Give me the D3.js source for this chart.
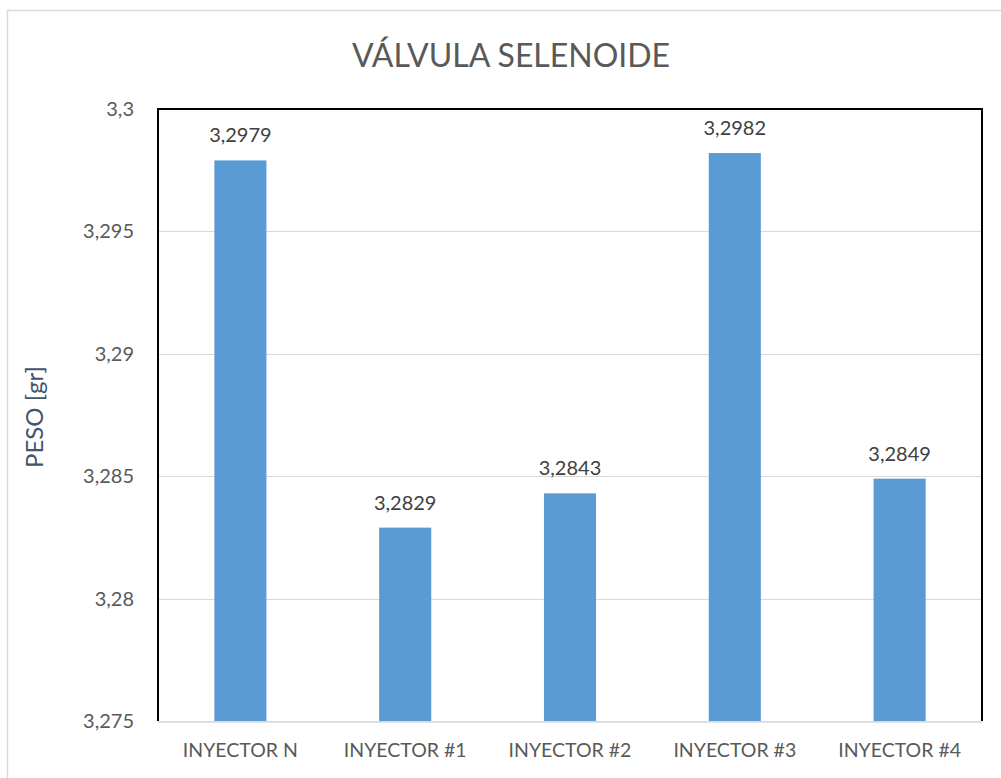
<!DOCTYPE html>
<html>
<head>
<meta charset="utf-8">
<script src="https://cdn.jsdelivr.net/npm/d3@7"></script>
<style>
  html, body { margin: 0; padding: 0; background: #ffffff; }
  svg { display: block; }
  text { font-family: Lato, "Open Sans", sans-serif; }
</style>
</head>
<body>
<svg id="chart" width="1001" height="778"></svg>
<script>
// Peso medido de cada inyector
const categories = ["INYECTOR N", "INYECTOR #1", "INYECTOR #2", "INYECTOR #3", "INYECTOR #4"];
const pesos = [3.2979, 3.2829, 3.2843, 3.2982, 3.2849];
const yTicks = [3.275, 3.28, 3.285, 3.29, 3.295, 3.3];
const yDomain = [3.275, 3.3];

const chartTitle = "VÁLVULA SELENOIDE";
const yTitle = "PESO [gr]";

const W = 1001, H = 778;
const plot = { left: 158, right: 982, top: 109, bottom: 721 };

const svg = d3.select("#chart");

// Marco exterior del gráfico
svg.append("rect")
  .attr("x", 7.5).attr("y", 10.5)
  .attr("width", W).attr("height", H)
  .attr("fill", "#ffffff")
  .attr("stroke", "#d9d9d9").attr("stroke-width", 1.5);

const x = d3.scaleBand()
  .domain(categories)
  .range([plot.left, plot.right])
  .paddingInner(0.684)
  .paddingOuter(0.342);

const y = d3.scaleLinear()
  .domain(yDomain)
  .range([plot.bottom, plot.top]);

const coma = v => String(v).replace(".", ",");

// Líneas de cuadrícula
svg.append("g")
  .selectAll("line")
  .data(yTicks)
  .join("line")
  .attr("x1", plot.left).attr("x2", plot.right)
  .attr("y1", d => Math.round(y(d)) + 0.5).attr("y2", d => Math.round(y(d)) + 0.5)
  .attr("stroke", "#d9d9d9").attr("stroke-width", 1.2);

// Eje Y
const yAxis = svg.append("g")
  .attr("transform", `translate(${plot.left},0)`)
  .call(d3.axisLeft(y).tickValues(yTicks).tickSize(0).tickPadding(24)
    .tickFormat(coma));
yAxis.select(".domain").remove();
yAxis.selectAll("text")
  .attr("fill", "#595959")
  .style("font-size", "20px");

// Eje X
const xAxis = svg.append("g")
  .attr("transform", `translate(0,${plot.bottom})`)
  .call(d3.axisBottom(x).tickSize(0).tickPadding(22));
xAxis.select(".domain").remove();
xAxis.selectAll("text")
  .attr("fill", "#595959")
  .style("font-size", "19.5px");

// Barras
svg.append("g")
  .selectAll("rect")
  .data(pesos)
  .join("rect")
  .attr("x", (d, i) => x(categories[i]))
  .attr("width", x.bandwidth())
  .attr("y", d => y(d))
  .attr("height", d => y(yDomain[0]) - y(d))
  .attr("fill", "#5b9bd5");

// Etiquetas de valor
svg.append("g")
  .selectAll("text")
  .data(pesos)
  .join("text")
  .attr("x", (d, i) => x(categories[i]) + x.bandwidth() / 2)
  .attr("y", d => y(d) - 18)
  .attr("text-anchor", "middle")
  .attr("fill", "#404040")
  .style("font-size", "20px")
  .text(coma);

// Línea base del eje X
svg.append("line")
  .attr("x1", plot.left).attr("x2", plot.right)
  .attr("y1", plot.bottom + 1).attr("y2", plot.bottom + 1)
  .attr("stroke", "#d9d9d9").attr("stroke-width", 1.5);

// Borde del área de trazado (izquierda, arriba, derecha)
svg.append("path")
  .attr("d", `M${plot.left},${plot.bottom} V${plot.top} H${plot.right} V${plot.bottom}`)
  .attr("fill", "none")
  .attr("stroke", "#000000").attr("stroke-width", 2);

// Título
svg.append("text")
  .attr("x", 511).attr("y", 67)
  .attr("text-anchor", "middle")
  .attr("fill", "#595959")
  .style("font-size", "32px")
  .text(chartTitle);

// Título del eje Y
svg.append("text")
  .attr("transform", `translate(43,417) rotate(-90)`)
  .attr("text-anchor", "middle")
  .attr("fill", "#44546a")
  .style("font-size", "24px")
  .text(yTitle);
</script>
</body>
</html>
